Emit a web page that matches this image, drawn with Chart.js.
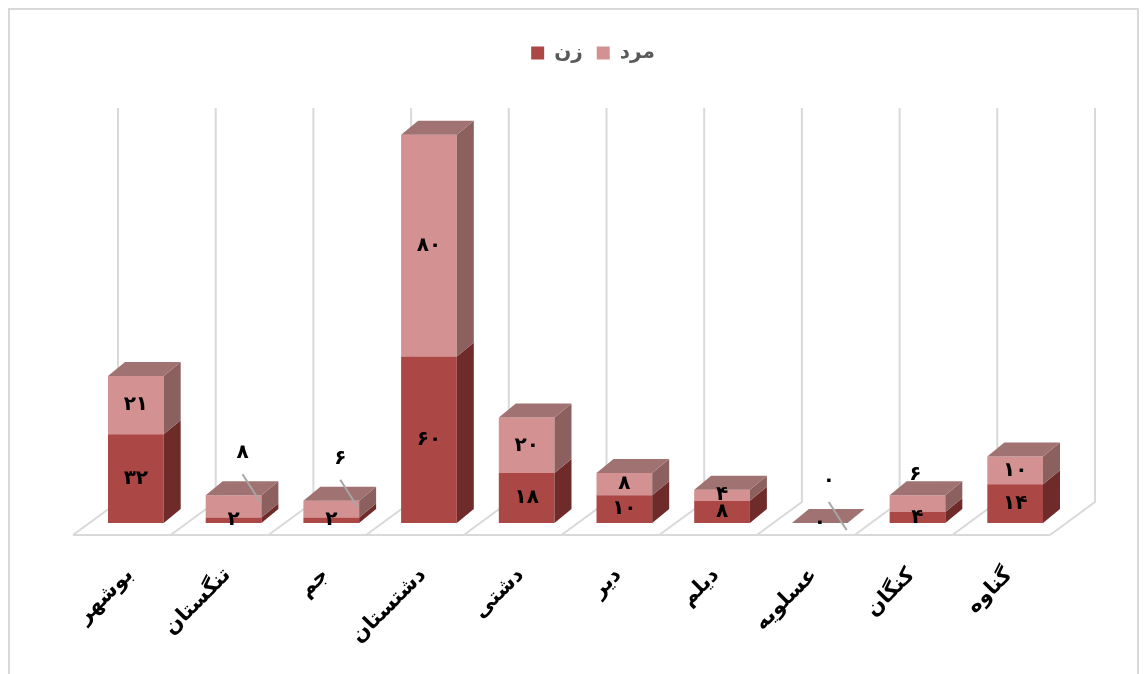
<!DOCTYPE html>
<html>
<head>
<meta charset="utf-8">
<script src="https://cdn.jsdelivr.net/npm/chart.js@4.4.1/dist/chart.umd.min.js"></script>
<style>
  html, body { margin: 0; padding: 0; background: #ffffff; }
  #wrap { position: relative; width: 1148px; height: 674px; }
</style>
</head>
<body>
<div id="wrap"><canvas id="c" width="1148" height="674"></canvas></div>
<script>
// ---- data ----
const categories = ['بوشهر', 'تنگستان', 'جم', 'دشتستان', 'دشتی', 'دیر', 'دیلم', 'عسلویه', 'کنگان', 'گناوه'];
const seriesNames = ['زن', 'مرد'];
const womenValues = [32, 2, 2, 60, 18, 10, 8, 0, 4, 14];
const menValues = [21, 8, 6, 80, 20, 8, 4, 0, 6, 10];
// placement of the men labels: inside the segment, outside with leader line, or just above
const menLabelPlacement = ['in', 'leader', 'leader', 'in', 'in', 'in', 'in', 'leader', 'above', 'in'];
const yMax = 150;

// ---- style ----
const FONT = '"DejaVu Sans", "Noto Sans", sans-serif';
const colors = {
  women: { front: 'rgb(171,71,69)', side: 'rgb(110,43,42)', top: 'rgb(150,95,94)' },
  men:   { front: 'rgb(211,145,145)', side: 'rgb(139,96,95)', top: 'rgb(160,114,113)' }
};
const D = { barDx: 17, barDy: -14, frontDx: -14, frontDy: 12, wallDx: 45, wallDy: -33 };

const faDigits = '۰۱۲۳۴۵۶۷۸۹';
function fa(n) { return String(n).replace(/[0-9]/g, d => faDigits[+d]); }

const threeD = {
  id: 'threeD',
  beforeDraw(chart) {
    const ctx = chart.ctx;
    ctx.save();
    ctx.fillStyle = '#ffffff';
    ctx.fillRect(0, 0, chart.width, chart.height);
    ctx.strokeStyle = '#d9d9d9';
    ctx.lineWidth = 2;
    ctx.strokeRect(9, 9, chart.width - 19, chart.height + 20);
    ctx.restore();
  },
  beforeDatasetsDraw(chart) {
    const ctx = chart.ctx;
    const xs = chart.scales.x, ys = chart.scales.y;
    const y0 = ys.getPixelForValue(0);
    const n = categories.length;
    const cw = (xs.right - xs.left) / n;
    const fy = y0 + D.frontDy;
    const topY = ys.getPixelForValue(yMax) + 1;
    ctx.save();
    ctx.strokeStyle = '#d9d9d9';
    ctx.lineWidth = 2;
    ctx.beginPath();
    ctx.moveTo(xs.left + D.frontDx, fy);
    ctx.lineTo(xs.right + D.frontDx, fy);
    for (let i = 0; i <= n; i++) {
      const fx = xs.getPixelForValue(0) - cw / 2 + i * cw + D.frontDx;
      ctx.moveTo(fx, fy);
      ctx.lineTo(fx + D.wallDx, fy + D.wallDy);
      ctx.lineTo(fx + D.wallDx, topY);
    }
    ctx.stroke();
    ctx.restore();
  },
  afterDatasetsDraw(chart) {
    const ctx = chart.ctx;
    const metas = [chart.getDatasetMeta(0), chart.getDatasetMeta(1)];
    const pal = [colors.women, colors.men];
    ctx.save();
    for (let i = 0; i < categories.length; i++) {
      for (let s = 0; s < 2; s++) {
        const p = metas[s].data[i].getProps(['x', 'y', 'base', 'width'], true);
        const r = p.x + p.width / 2, l = p.x - p.width / 2;
        const top = Math.min(p.y, p.base), bot = Math.max(p.y, p.base);
        if (bot - top > 0.01) {
          ctx.fillStyle = pal[s].side;
          ctx.beginPath();
          ctx.moveTo(r, top);
          ctx.lineTo(r + D.barDx, top + D.barDy);
          ctx.lineTo(r + D.barDx, bot + D.barDy);
          ctx.lineTo(r, bot);
          ctx.closePath();
          ctx.fill();
        }
        if (s === 1) {
          ctx.fillStyle = pal[s].top;
          ctx.beginPath();
          ctx.moveTo(l, top);
          ctx.lineTo(l + D.barDx, top + D.barDy);
          ctx.lineTo(r + D.barDx, top + D.barDy);
          ctx.lineTo(r, top);
          ctx.closePath();
          ctx.fill();
        }
      }
    }
    ctx.font = 'bold 20px ' + FONT;
    ctx.textAlign = 'center';
    ctx.textBaseline = 'middle';
    ctx.fillStyle = '#000000';
    const vals = [womenValues, menValues];
    for (let i = 0; i < categories.length; i++) {
      for (let s = 0; s < 2; s++) {
        const p = metas[s].data[i].getProps(['x', 'y', 'base', 'width'], true);
        const top = Math.min(p.y, p.base), bot = Math.max(p.y, p.base);
        let lx = p.x, ly = (top + bot) / 2;
        if (s === 1 && menLabelPlacement[i] === 'leader') {
          lx = p.x + 9; ly = top - 42;
          ctx.strokeStyle = '#a6a6a6';
          ctx.lineWidth = 2;
          ctx.beginPath();
          ctx.moveTo(lx, ly + 21);
          ctx.lineTo(p.x + p.width / 2 - 1, top + 7);
          ctx.stroke();
        } else if (s === 1 && menLabelPlacement[i] === 'above') {
          lx = p.x - 2; ly = top - 20;
        }
        ctx.fillText(fa(vals[s][i]), lx, ly);
      }
    }
    ctx.restore();
  }
};

new Chart(document.getElementById('c'), {
  type: 'bar',
  data: {
    labels: categories,
    datasets: [
      { label: seriesNames[0], data: womenValues, backgroundColor: colors.women.front, borderWidth: 0 },
      { label: seriesNames[1], data: menValues, backgroundColor: colors.men.front, borderWidth: 0 }
    ]
  },
  options: {
    responsive: false,
    animation: false,
    devicePixelRatio: 1,
    layout: { padding: { top: 29, left: 87, right: 49, bottom: 0 } },
    datasets: { bar: { categoryPercentage: 1, barPercentage: 0.57 } },
    plugins: {
      legend: {
        position: 'top',
        labels: {
          boxWidth: 13, boxHeight: 13, padding: 14,
          color: '#595959',
          font: { family: FONT, size: 20, weight: 'bold' }
        }
      },
      subtitle: {
        display: true, text: ' ', weight: 500,
        padding: { top: 0, bottom: 22 },
        font: { size: 10 }
      },
      tooltip: { enabled: false }
    },
    scales: {
      x: {
        stacked: true,
        grid: { display: false, drawTicks: false },
        border: { display: false },
        ticks: {
          minRotation: 45, maxRotation: 45, padding: 40, labelOffset: -6,
          color: '#000000',
          font: { family: FONT, size: 21, weight: 'bold' }
        },
        afterFit(scale) { scale.height = 151; }
      },
      y: {
        stacked: true, display: true, position: 'right', min: 0, max: yMax,
        grid: { display: false, drawTicks: false },
        border: { display: false },
        ticks: { display: false },
        afterFit(scale) { scale.width = 35; }
      }
    }
  },
  plugins: [threeD]
});
</script>
</body>
</html>
